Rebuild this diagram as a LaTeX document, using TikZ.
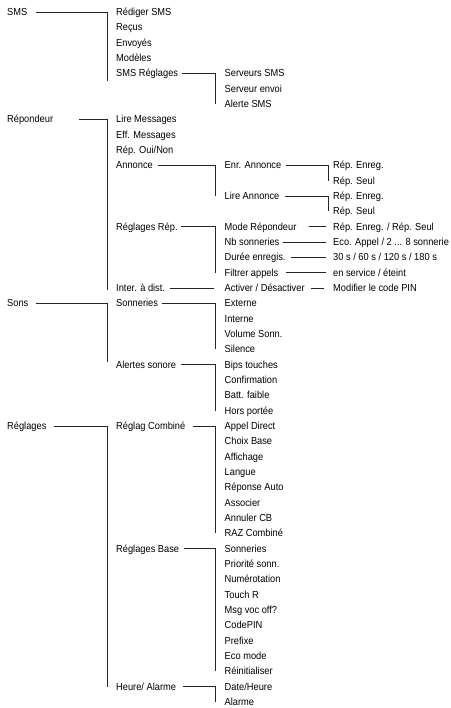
\documentclass[tikz,border=0pt]{standalone}
\usepackage{fontspec}
\setmainfont{Liberation Sans}[FakeStretch=0.91]
\newcommand\R[1]{{12+15.33*(#1)}}
\begin{document}
\begin{tikzpicture}[x=1pt,y=-1pt,
  t/.style={anchor=west,inner sep=0pt,text height=7.3pt,text depth=0pt,
    font=\fontsize{10.2}{12}\selectfont,text=black},
  ln/.style={draw=black!85,line width=0.8pt}]
\useasboundingbox (0,0) rectangle (450,708);
% column 1
\node[t] (sms) at (7,\R{0}) {SMS};
\node[t] (rep) at (7,\R{7}) {Répondeur};
\node[t] (sons) at (7,\R{19}) {Sons};
\node[t] (regl) at (7,\R{27}) {Réglages};
% column 2
\node[t] (redig) at (116,\R{0}) {Rédiger SMS};
\node[t] (recus) at (116,\R{1}) {Reçus};
\node[t] (envoy) at (116,\R{2}) {Envoyés};
\node[t] (model) at (116,\R{3}) {Modèles};
\node[t] (smsreg) at (116,\R{4}) {SMS Réglages};
\node[t] (liremsg) at (116,\R{7}) {Lire Messages};
\node[t] (effmsg) at (116,\R{8}) {Eff. Messages};
\node[t] (repoui) at (116,\R{9}) {Rép. Oui/Non};
\node[t] (annonce) at (116,\R{10}) {Annonce};
\node[t] (reglrep) at (116,\R{14}) {Réglages Rép.};
\node[t] (inter) at (116,\R{18}) {Inter. à dist.};
\node[t] (sonneries) at (116,\R{19}) {Sonneries};
\node[t] (alertes) at (116,\R{23}) {Alertes sonore};
\node[t] (reglcomb) at (116,\R{27}) {Réglag Combiné};
\node[t] (reglbase) at (116,\R{35}) {Réglages Base};
\node[t] (heure) at (116,\R{44}) {Heure/ Alarme};
% column 3
\node[t] (serv) at (224.5,\R{4}) {Serveurs SMS};
\node[t] (servenv) at (224.5,\R{5}) {Serveur envoi};
\node[t] (alertsms) at (224.5,\R{6}) {Alerte SMS};
\node[t] (enrann) at (224.5,\R{10}) {Enr. Annonce};
\node[t] (lireann) at (224.5,\R{12}) {Lire Annonce};
\node[t] (moderep) at (224.5,\R{14}) {Mode Répondeur};
\node[t] (nbson) at (224.5,\R{15}) {Nb sonneries};
\node[t] (duree) at (224.5,\R{16}) {Durée enregis.};
\node[t] (filtrer) at (224.5,\R{17}) {Filtrer appels};
\node[t] (activer) at (224.5,\R{18}) {Activer / Désactiver};
\node[t] (externe) at (224.5,\R{19}) {Externe};
\node[t] (interne) at (224.5,\R{20}) {Interne};
\node[t] (volume) at (224.5,\R{21}) {Volume Sonn.};
\node[t] (silence) at (224.5,\R{22}) {Silence};
\node[t] (bips) at (224.5,\R{23}) {Bips touches};
\node[t] (confirm) at (224.5,\R{24}) {Confirmation};
\node[t] (batt) at (224.5,\R{25}) {Batt. faible};
\node[t] (hors) at (224.5,\R{26}) {Hors portée};
\node[t] (appel) at (224.5,\R{27}) {Appel Direct};
\node[t] (choix) at (224.5,\R{28}) {Choix Base};
\node[t] (affich) at (224.5,\R{29}) {Affichage};
\node[t] (langue) at (224.5,\R{30}) {Langue};
\node[t] (repauto) at (224.5,\R{31}) {Réponse Auto};
\node[t] (assoc) at (224.5,\R{32}) {Associer};
\node[t] (annul) at (224.5,\R{33}) {Annuler CB};
\node[t] (raz) at (224.5,\R{34}) {RAZ Combiné};
\node[t] (bson) at (224.5,\R{35}) {Sonneries};
\node[t] (prio) at (224.5,\R{36}) {Priorité sonn.};
\node[t] (numer) at (224.5,\R{37}) {Numérotation};
\node[t] (touch) at (224.5,\R{38}) {Touch R};
\node[t] (msgvoc) at (224.5,\R{39}) {Msg voc off?};
\node[t] (codepin) at (224.5,\R{40}) {CodePIN};
\node[t] (prefixe) at (224.5,\R{41}) {Prefixe};
\node[t] (eco) at (224.5,\R{42}) {Eco mode};
\node[t] (reinit) at (224.5,\R{43}) {Réinitialiser};
\node[t] (date) at (224.5,\R{44}) {Date/Heure};
\node[t] (alarme) at (224.5,\R{45}) {Alarme};
% column 4
\node[t] (e1) at (333,\R{10}) {Rép. Enreg.};
\node[t] (s1) at (333,\R{11}) {Rép. Seul};
\node[t] (e2) at (333,\R{12}) {Rép. Enreg.};
\node[t] (s2) at (333,\R{13}) {Rép. Seul};
\node[t] (modeval) at (333,\R{14}) {Rép. Enreg. / Rép. Seul};
\node[t] (ecoval) at (333,\R{15}) {Eco. Appel / 2 ... 8 sonnerie};
\node[t] (dureeval) at (333,\R{16}) {30 s / 60 s / 120 s / 180 s};
\node[t] (filtval) at (333,\R{17}) {en service / éteint};
\node[t] (modpin) at (333,\R{18}) {Modifier le code PIN};
% brackets
\draw[ln] ([xshift=8pt]sms.east) -| ([xshift=-9pt,yshift=-8pt]smsreg.west);
\draw[ln] ([xshift=4pt]smsreg.east) -| ([xshift=-9.5pt]alertsms.west);
\draw[ln] ([xshift=26pt]rep.east) -| ([xshift=-9pt,yshift=-2pt]inter.west);
\draw[ln] ([xshift=4.5pt]annonce.east) -| ([xshift=-9.5pt]lireann.west);
\draw[ln] ([xshift=5pt]enrann.east) -| ([xshift=-5pt]s1.west);
\draw[ln] ([xshift=5pt]lireann.east) -| ([xshift=-5pt]s2.west);
\draw[ln] ([xshift=3.5pt]reglrep.east) -| ([xshift=-9.5pt]filtrer.west);
\draw[ln] ([xshift=7pt]sons.east) -| ([xshift=-9pt,yshift=3pt]alertes.west);
\draw[ln] ([xshift=3.5pt]sonneries.east) -| ([xshift=-9.5pt]silence.west);
\draw[ln] ([xshift=5pt]alertes.east) -| ([xshift=-9.5pt]hors.west);
\draw[ln] ([xshift=7pt]regl.east) -| ([xshift=-9pt]heure.west);
\draw[ln] ([xshift=7pt]reglcomb.east) -| ([xshift=-9.5pt]raz.west);
\draw[ln] ([xshift=5pt]reglbase.east) -| ([xshift=-9.5pt]reinit.west);
\draw[ln] ([xshift=7pt]heure.east) -| ([xshift=-9.5pt]alarme.west);
% single links
\draw[ln] ([xshift=5pt]inter.east) -- ([xshift=-11pt]activer.west);
\draw[ln] ([xshift=6pt]activer.east) -- ([xshift=-9pt]modpin.west);
\draw[ln] ([xshift=12pt]moderep.east) -- ([xshift=-7pt]modeval.west);
\draw[ln] ([xshift=3pt]nbson.east) -- ([xshift=-7pt]ecoval.west);
\draw[ln] ([xshift=5pt]duree.east) -- ([xshift=-7pt]dureeval.west);
\draw[ln] ([xshift=7pt]filtrer.east) -- ([xshift=-7pt]filtval.west);
\end{tikzpicture}
\end{document}
